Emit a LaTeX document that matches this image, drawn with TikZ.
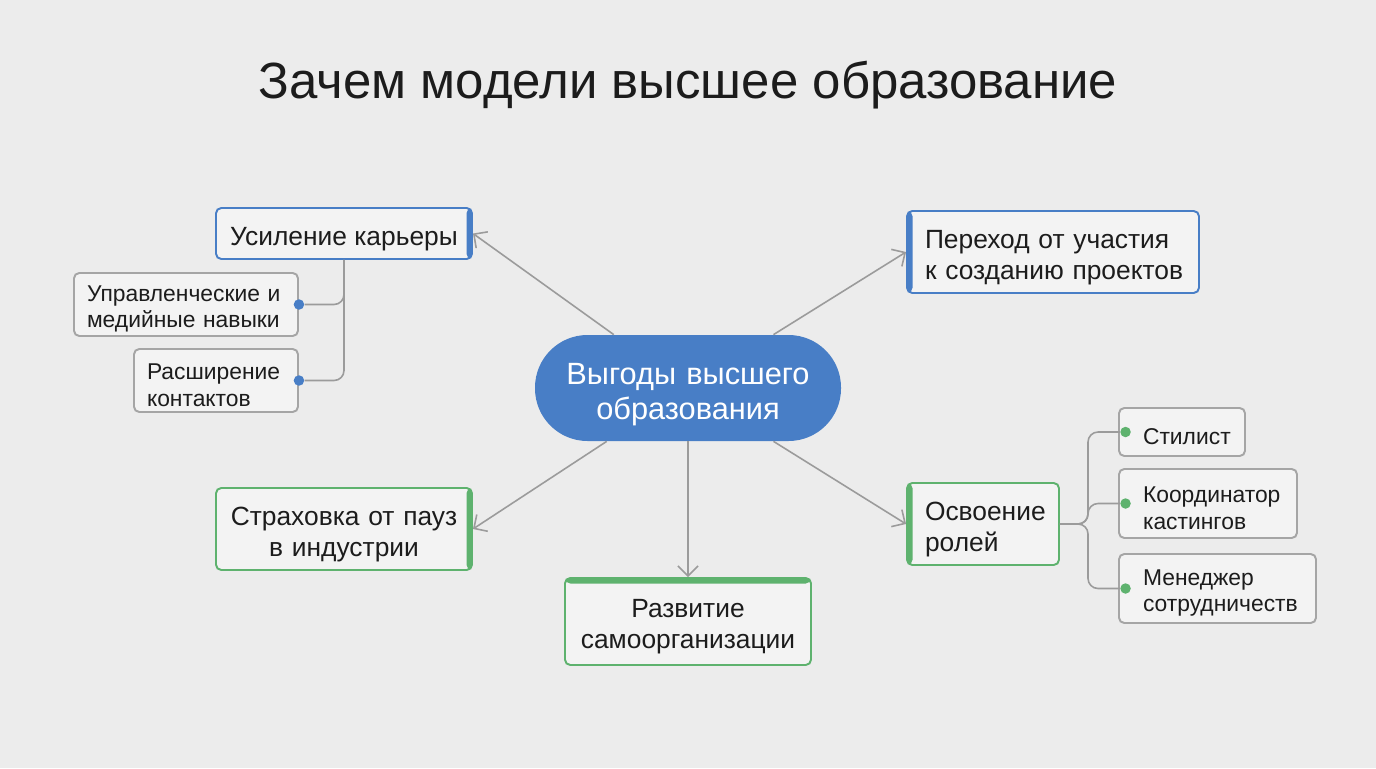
\documentclass[tikz,border=0pt]{standalone}
\usepackage{fontspec}
\setmainfont{Liberation Sans}
\usetikzlibrary{arrows.meta,positioning,calc}
\definecolor{mapbg}{RGB}{236,236,236}
\definecolor{boxfill}{RGB}{243,243,243}
\definecolor{mapblue}{RGB}{72,126,198}
\definecolor{mapgreen}{RGB}{94,178,110}
\definecolor{mapgray}{RGB}{155,155,155}
\definecolor{mapink}{RGB}{28,28,28}

\begin{document}
\begin{tikzpicture}[
    mapbox/.style={draw, line width=1.1pt, fill=boxfill, rounded corners=3pt, text=mapink, font=\fontsize{15}{17.5}\selectfont, inner sep=0pt, execute at begin node={\rule{0pt}{1.1em}}},
    subbox/.style={mapbox, draw=mapgray!90, font=\fontsize{13}{15}\selectfont},
    barR/.style={path picture={\fill[#1] ([xshift=-0.11cm]path picture bounding box.north east) rectangle (path picture bounding box.south east);}},
    barL/.style={path picture={\fill[#1] (path picture bounding box.north west) rectangle ([xshift=0.11cm]path picture bounding box.south west);}},
    barT/.style={path picture={\fill[#1] (path picture bounding box.north west) rectangle ([yshift=-0.11cm]path picture bounding box.north east);}},
    link/.style={draw=mapgray, line width=0.9pt},
    arr/.style={link, -{Straight Barb[length=2mm,width=4mm]}},
    tipdot/.style={circle, inner sep=0pt, minimum size=0.21cm}
]
\useasboundingbox (0,0) rectangle (27.52,-15.36);
\fill[mapbg] (0,0) rectangle (27.52,-15.36);

% Title
\node[font=\fontsize{29}{34}\selectfont, text=mapink] (title) at (13.76,-1.7) {Зачем модели высшее образование};

% Centre
\node[fill=mapblue, rounded corners=1.05cm, text width=6.12cm, inner sep=0pt, minimum height=2.12cm, text=white, align=center, font=\fontsize{17.5}{20}\selectfont, execute at begin node={\rule{0pt}{1.1em}}] (core) at (13.76,-7.76) {Выгоды высшего\\образования};

% Main branches
\node[mapbox, draw=mapblue, barR=mapblue, minimum width=5.12cm, minimum height=1.02cm] (career) at (6.88,-4.67) {Усиление карьеры};
\node[mapbox, draw=mapblue, barL=mapblue, minimum height=1.64cm, align=left, text width=5.12cm, inner xsep=0.36cm] (shift) at (21.06,-5.04) {Переход от участия\\\mbox{к созданию проектов}};
\node[mapbox, draw=mapgreen, barR=mapgreen, text width=5.12cm, minimum height=1.64cm, align=center] (pause) at (6.88,-10.58) {Страховка от пауз\\в индустрии};
\node[mapbox, draw=mapgreen, barT=mapgreen, text width=4.92cm, minimum height=1.74cm, align=center] (selforg) at (13.76,-12.43) {Развитие\\самоорганизации};
\node[mapbox, draw=mapgreen, barL=mapgreen, minimum height=1.64cm, align=left, text width=2.32cm, inner xsep=0.36cm] (roles) at (19.66,-10.48) {Освоение\\ролей};

% Career details
\node[subbox, minimum height=1.26cm, align=left, text width=3.96cm, inner xsep=0.26cm] (skills) at (3.72,-6.09) {Управленческие и\\медийные навыки};
\node[subbox, minimum height=1.26cm, align=left, text width=2.76cm, inner xsep=0.26cm] (contacts) at (4.32,-7.61) {Расширение\\контактов};
\node[tipdot, fill=mapblue] (dskills) at (skills.east) {};
\node[tipdot, fill=mapblue] (dcontacts) at (contacts.east) {};
\draw[link, rounded corners=0.2cm] (career.south) |- (dskills);
\draw[link, rounded corners=0.2cm] (career.south) |- (dcontacts);

% Roles
\node[subbox, minimum height=0.96cm, align=left, text width=1.56cm, inner xsep=0.48cm] (stylist) at (23.64,-8.64) {\mbox{Стилист}};
\node[subbox, minimum height=1.38cm, align=left, text width=2.6cm, inner xsep=0.48cm] (casting) at (24.16,-10.07) {\mbox{Координатор}\\кастингов};
\node[subbox, minimum height=1.38cm, align=left, text width=2.98cm, inner xsep=0.48cm] (partner) at (24.35,-11.77) {Менеджер\\\mbox{сотрудничеств}};
\node[tipdot, fill=mapgreen] (dstylist) at ([xshift=0.15cm]stylist.west) {};
\node[tipdot, fill=mapgreen] (dcasting) at ([xshift=0.15cm]casting.west) {};
\node[tipdot, fill=mapgreen] (dpartner) at ([xshift=0.15cm]partner.west) {};
\coordinate (fork) at (21.76,-10.48);
\draw[link, rounded corners=0.2cm] (roles.east) -- (fork) |- (dstylist);
\draw[link, rounded corners=0.2cm] (roles.east) -- (fork) |- (dcasting);
\draw[link, rounded corners=0.2cm] (roles.east) -- (fork) |- (dpartner);

% Arrows from the centre
\draw[arr] (core) -- (career.east);
\draw[arr] (core) -- (shift.west);
\draw[arr] (core) -- (pause.east);
\draw[arr] (core) -- (selforg.north);
\draw[arr] (core) -- (roles.west);
\end{tikzpicture}
\end{document}
